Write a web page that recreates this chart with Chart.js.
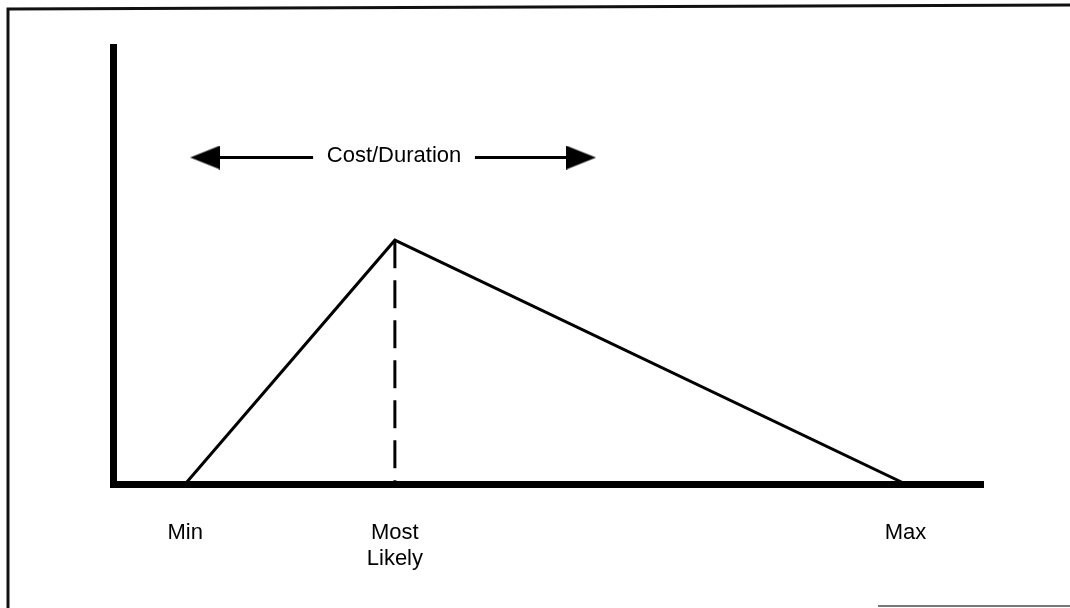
<!DOCTYPE html>
<html>
<head>
<meta charset="utf-8">
<script src="https://cdn.jsdelivr.net/npm/chart.js@4.4.1/dist/chart.umd.min.js"></script>
<style>
  body { margin: 0; background: #fff; }
  #wrap { width: 1070px; height: 608px; }
</style>
</head>
<body>
<div id="wrap"><canvas id="triChart" width="1070" height="608"></canvas></div>
<script>
// triangular distribution: min, most likely, max
const pointLabels = ['Min', ['Most', 'Likely'], 'Max'];
const pointX = [8.3, 32.4, 91.1];
const pointY = [0, 55.8, 0];

// arrow above the curve
const arrowText = 'Cost/Duration';
const arrowX = [10.6, 23.0, 32.3, 41.6, 53.8];
const arrowY = 74.7;

// arrowhead used as point style at both ends
function makeHead() {
  const c = document.createElement('canvas');
  c.width = 30;
  c.height = 24;
  const g = c.getContext('2d');
  g.fillStyle = '#000';
  g.beginPath();
  g.moveTo(0, 0);
  g.lineTo(30, 12);
  g.lineTo(0, 24);
  g.closePath();
  g.fill();
  return c;
}
const head = makeHead();

const framePlugin = {
  id: 'frame',
  beforeDraw(chart) {
    const ctx = chart.ctx;
    ctx.save();
    ctx.strokeStyle = '#111';
    ctx.lineWidth = 3;
    ctx.beginPath();
    ctx.moveTo(8, 608);
    ctx.lineTo(8, 9);
    ctx.lineTo(1070, 5);
    ctx.stroke();
    ctx.strokeStyle = '#777';
    ctx.lineWidth = 2;
    ctx.beginPath();
    ctx.moveTo(878, 606);
    ctx.lineTo(1070, 606);
    ctx.stroke();
    ctx.restore();
  }
};

const arrowLabel = {
  id: 'arrowLabel',
  afterDatasetsDraw(chart) {
    const ctx = chart.ctx;
    const x = chart.scales.x.getPixelForValue(arrowX[2]);
    const y = chart.scales.y.getPixelForValue(arrowY);
    ctx.save();
    ctx.font = '22px "Liberation Sans", Arial, sans-serif';
    ctx.fillStyle = '#000';
    ctx.textAlign = 'center';
    ctx.textBaseline = 'middle';
    ctx.fillText(arrowText, x, y - 2);
    ctx.restore();
  }
};

const ctx = document.getElementById('triChart');
new Chart(ctx, {
  type: 'scatter',
  data: {
    datasets: [
      {
        data: pointX.map((x, i) => ({ x: x, y: pointY[i] })),
        showLine: true,
        borderColor: '#000',
        borderWidth: 3,
        borderJoinStyle: 'miter',
        pointRadius: 0
      },
      {
        data: [{ x: pointX[1], y: pointY[1] }, { x: pointX[1], y: 0 }],
        showLine: true,
        borderColor: '#000',
        borderWidth: 3,
        borderDash: [28, 12],
        pointRadius: 0
      },
      {
        data: [
          { x: arrowX[0], y: arrowY },
          { x: arrowX[1], y: arrowY },
          { x: arrowX[2], y: null },
          { x: arrowX[3], y: arrowY },
          { x: arrowX[4], y: arrowY }
        ],
        showLine: true,
        spanGaps: false,
        borderColor: '#000',
        borderWidth: 3,
        pointStyle: head,
        pointRotation: [180, 0, 0, 0, 0],
        pointRadius: [1, 0, 0, 0, 1]
      }
    ]
  },
  options: {
    responsive: false,
    devicePixelRatio: 1,
    animation: false,
    events: [],
    layout: { padding: { left: 113, right: 87, top: 47, bottom: 0 } },
    plugins: {
      legend: { display: false },
      tooltip: { enabled: false }
    },
    scales: {
      x: {
        type: 'linear',
        min: 0,
        max: 100,
        grid: { display: false, drawTicks: false },
        border: { display: true, color: '#000', width: 7 },
        afterBuildTicks: (scale) => {
          scale.ticks = pointX.map(v => ({ value: v }));
        },
        afterFit: (scale) => { scale.height = 124; },
        ticks: {
          autoSkip: false,
          maxRotation: 0,
          padding: 36,
          color: '#000',
          font: { family: '"Liberation Sans", Arial, sans-serif', size: 22, lineHeight: '26px' },
          callback: (value, index) => pointLabels[index]
        }
      },
      y: {
        type: 'linear',
        min: 0,
        max: 100,
        grid: { display: false, drawTicks: false },
        border: { display: true, color: '#000', width: 7 },
        ticks: { display: false },
        afterFit: (scale) => { scale.width = 0; }
      }
    }
  },
  plugins: [framePlugin, arrowLabel]
});
</script>
</body>
</html>
